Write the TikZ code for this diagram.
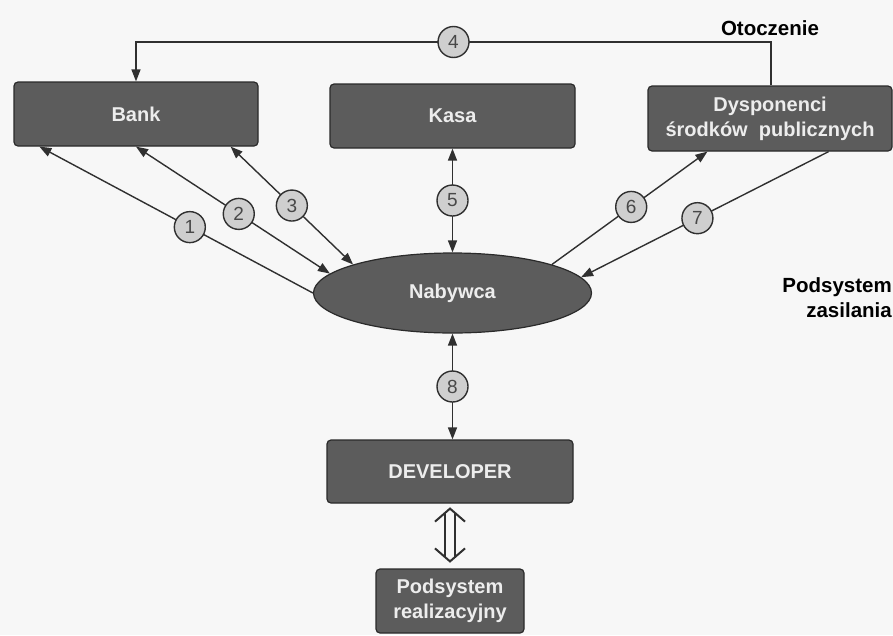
\documentclass[tikz,border=0pt]{standalone}
\usepackage{fontspec}
\setmainfont{Liberation Sans}
\usetikzlibrary{shapes.geometric,arrows.meta,calc}

\definecolor{boxfill}{HTML}{5C5C5C}
\definecolor{boxline}{HTML}{2A2A2A}
\definecolor{boxtext}{HTML}{EDEDED}
\definecolor{wire}{HTML}{303030}
\definecolor{numfill}{HTML}{CFCFCF}
\definecolor{numtext}{HTML}{484848}
\definecolor{paper}{HTML}{F7F7F7}

\tikzset{
  unit/.style={rectangle, rounded corners=4pt, fill=boxfill, draw=boxline,
    line width=1.2pt, text=boxtext, align=center, inner sep=2pt,
    font=\fontsize{20}{25}\selectfont\bfseries},
  buyer/.style={ellipse, fill=boxfill, draw=boxline, line width=1.2pt,
    text=boxtext, inner sep=0pt, font=\fontsize{20}{25}\selectfont\bfseries},
  num/.style={circle, fill=numfill, draw=wire, line width=1.4pt,
    minimum size=31pt, inner sep=0pt, text=numtext,
    font=\fontsize{19}{19}\selectfont},
  flow/.style={draw=wire, line width=1.4pt},
  tip/.style={-{Triangle[length=12pt,width=9pt]}},
  tips/.style={{Triangle[length=12pt,width=9pt]}-{Triangle[length=12pt,width=9pt]}},
  caption/.style={font=\fontsize{20.5}{25}\selectfont\bfseries, inner sep=0pt},
  hollow/.style={draw=wire, line width=2pt},
}

\begin{document}
\begin{tikzpicture}[x=1pt,y=-1pt]
  \fill[paper] (0,0) rectangle (893,635);
  \useasboundingbox (0,0) rectangle (893,635);

  % units of the system
  \node[unit, minimum width=244pt, minimum height=64pt] (bank) at (136,114) {Bank};
  \node[unit, minimum width=245pt, minimum height=64pt] (kasa) at (452.5,116) {Kasa};
  \node[unit, minimum width=244pt, minimum height=65pt] (dysp) at (770,118.5)
    {Dysponenci\\środków\ \ publicznych};
  \node[buyer, minimum width=278pt, minimum height=80pt] (nab) at (452.5,293) {Nabywca};
  \node[unit, minimum width=246pt, minimum height=63pt] (dev) at (450,471.5) {DEVELOPER};
  \node[unit, minimum width=148pt, minimum height=64pt] (real) at (450,601)
    {Podsystem\\realizacyjny};

  % captions
  \node[caption] (otocz) at (770,28) {Otoczenie};
  \node[caption, align=right, anchor=east] (zasil) at (892,297.5) {Podsystem\\zasilania};

  % flows between the buyer and its surroundings
  \coordinate (top) at (771,42);
  \draw[flow, tip] (dysp.north -| top) -- (top) -| node[num, pos=0.25] (c4) {4} (bank.north);

  \draw[flow, tip] (nab.west) -- node[num, pos=0.45] (c1) {1}
    ($(bank.south west)+(26,0)$);
  \draw[flow, tips] (nab.171) -- node[num, pos=0.47] (c2) {2} (bank.south);
  \draw[flow, tips] (nab.164) -- node[num, pos=0.5] (c3) {3}
    ($(bank.south east)+(-28,0)$);
  \draw[flow, tips] (kasa.south) -- node[num, pos=0.5] (c5) {5} (kasa.south |- nab.north);
  \draw[flow, tip] (nab.16) -- node[num, pos=0.51] (c6) {6}
    ($(dysp.south west)+(60,0)$);
  \draw[flow, tip] ($(dysp.south east)+(-64,0)$) -- node[num, pos=0.53] (c7) {7} (nab.7);
  \draw[flow, tips] (nab.south) -- node[num, pos=0.5] (c8) {8} (nab.south |- dev.north);

  % hollow double arrow between developer and realisation subsystem
  \draw[hollow] ($(dev.south)+(-15,18)$) -- ($(dev.south)+(0,5)$) -- ($(dev.south)+(15,18)$);
  \draw[hollow] ($(real.north)+(-15,-20)$) -- ($(real.north)+(0,-7)$) -- ($(real.north)+(15,-20)$);
  \draw[hollow] ($(dev.south)+(-5,9)$) -- ($(real.north)+(-5,-11)$);
  \draw[hollow] ($(dev.south)+(5,9)$) -- ($(real.north)+(5,-11)$);
\end{tikzpicture}
\end{document}
